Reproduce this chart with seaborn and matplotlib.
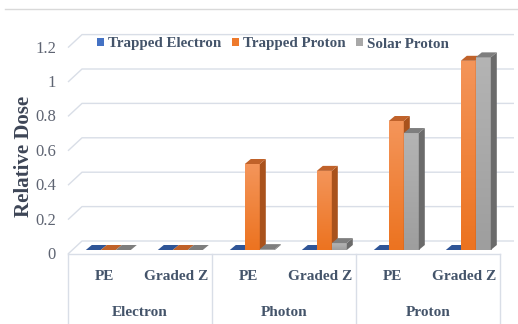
import numpy as np
import pandas as pd
import matplotlib
matplotlib.use("Agg")
import matplotlib.pyplot as plt
import seaborn as sns
from matplotlib.patches import Polygon, Patch
from matplotlib.lines import Line2D

# ---- data -------------------------------------------------------------
groups = ["Electron", "Photon", "Proton"]
shields = ["PE", "Graded Z"]
series = ["Trapped Electron", "Trapped Proton", "Solar Proton"]
trapped_electron = [0.0, 0.0, 0.0, 0.0, 0.0, 0.0]
trapped_proton = [0.0, 0.0, 0.50, 0.46, 0.75, 1.10]
solar_proton = [0.0, 0.0, 0.005, 0.04, 0.68, 1.12]
yticks = [0, 0.2, 0.4, 0.6, 0.8, 1.0, 1.2]
ytick_labels = ["0", "0.2", "0.4", "0.6", "0.8", "1", "1.2"]

slots = [f"{g}|{s}" for g in groups for s in shields]
df = pd.DataFrame({
    "slot": slots * 3,
    "source": np.repeat(series, len(slots)),
    "dose": trapped_electron + trapped_proton + solar_proton,
})

# ---- style ------------------------------------------------------------
front_col = {"Trapped Electron": "#4472C4", "Trapped Proton": "#EE7A2C", "Solar Proton": "#A8A8A8"}
grad_col = {"Trapped Electron": ("#5A85D0", "#3A66B8"),
            "Trapped Proton": ("#F4955A", "#EC7320"),
            "Solar Proton": ("#B4B4B4", "#9E9E9E")}
top_col = {"Trapped Electron": "#2F5597", "Trapped Proton": "#C0622A", "Solar Proton": "#7E7E7E"}
side_col = {"Trapped Electron": "#284B88", "Trapped Proton": "#A9521C", "Solar Proton": "#6B6B6B"}
grid_c = "#D9DEE7"
text_c = "#44546A"
tick_c = "#5E6472"
serif = ["Liberation Serif", "DejaVu Serif"]

W, H = 518, 324
fig = plt.figure(figsize=(W / 100, H / 100), dpi=100)
ax = fig.add_axes([72.3 / W, 74 / H, 432 / W, 1.3 * 172 / H])
ax.set_xlim(-0.5, 5.5)
ax.set_ylim(0, 1.3)
ax.axis("off")

ux = 6.0 / 432.0        # data units per pixel (x)
uy = 1.3 / (1.3 * 172)  # data units per pixel (y)


def sh(x, y, dx, dy):
    return (x + dx * ux, y + dy * uy)


FRONT = (-4.3, -4.0)
BACK = (9.7, 9.0)
DEPTH = (6.0, 5.0)

sns.barplot(data=df, x="slot", y="dose", hue="source", order=slots,
            hue_order=series, palette=front_col, width=0.625, saturation=1,
            linewidth=0, edgecolor="none", legend=False, ax=ax)
ax.set_xlim(-0.5, 5.5)
ax.set_ylim(0, 1.3)

# back wall gridlines with the left-wall diagonals
for v in yticks:
    x0b, y0b = sh(-0.5, v, *BACK)
    x1b, _ = sh(5.5, v, *BACK)
    x0f, y0f = sh(-0.5, v, *FRONT)
    ax.plot([x0f, x0b, x1b], [y0f, y0b, y0b], color=grid_c, lw=1.0,
            zorder=0.5, clip_on=False, solid_capstyle="butt")

# floor front edge
xf0, yf0 = sh(-0.5, 0, *FRONT)
xf1, _ = sh(5.5, 0, *FRONT)
ax.plot([xf0, xf1], [yf0, yf0], color=grid_c, lw=1.0, zorder=0.5, clip_on=False)

# category table separators
bottom = yf0 - 72 * uy
for b in [-0.5, 1.5, 3.5, 5.5]:
    xb, _ = sh(b, 0, *FRONT)
    ax.plot([xb, xb], [yf0, bottom], color=grid_c, lw=1.0, zorder=0.5, clip_on=False)

# 3D faces for each bar
for si, (name, cont) in enumerate(zip(series, ax.containers)):
    for ci, p in enumerate(cont.patches):
        z = 2 + 0.01 * (ci * 3 + si)
        x0, w, h = p.get_x(), p.get_width(), p.get_height()
        x1 = x0 + w
        p.set_zorder(z)
        if h > 0:
            c_top, c_bot = grad_col[name]
            grad = np.linspace(0, 1, 64)[:, None]
            cmap = matplotlib.colors.LinearSegmentedColormap.from_list("g", [c_bot, c_top])
            im = ax.imshow(grad, extent=[x0, x1, 0, h], origin="lower", cmap=cmap,
                           aspect="auto", zorder=z + 0.001, interpolation="bilinear")
            im.set_clip_path(p)
            side = [(x1, 0), (x1, h), sh(x1, h, *DEPTH), sh(x1, 0, *DEPTH)]
            ax.add_patch(Polygon(side, closed=True, facecolor=side_col[name],
                                 edgecolor="none", zorder=z + 0.002))
        top = [(x0, h), (x1, h), sh(x1, h, *DEPTH), sh(x0, h, *DEPTH)]
        ax.add_patch(Polygon(top, closed=True, facecolor=top_col[name],
                             edgecolor="none", zorder=z + 0.003, clip_on=False))
ax.set_xlim(-0.5, 5.5)
ax.set_ylim(0, 1.3)

# y tick labels on the front plane
for v, lab in zip(yticks, ytick_labels):
    x, y = sh(-0.5, v, FRONT[0] - 12, FRONT[1] - 1)
    ax.text(x, y, lab, ha="right", va="center", fontsize=12, color=tick_c,
            family=serif, clip_on=False)

# category labels
for i, s in enumerate(slots):
    g, sub = s.split("|")
    x, y = sh(i, 0, FRONT[0], -27)
    ax.text(x, y, sub, ha="center", va="center", fontsize=11, fontweight="bold",
            color=text_c, family=serif, clip_on=False)
for gi, g in enumerate(groups):
    x, y = sh(2 * gi + 0.5, 0, FRONT[0], -62)
    ax.text(x, y, g, ha="center", va="center", fontsize=11, fontweight="bold",
            color=text_c, family=serif, clip_on=False)

fig.text(24 / W, 1 - 156 / H, "Relative Dose", rotation=90, ha="center", va="center",
         fontsize=15, fontweight="bold", color="#3D4556", family=serif)

handles = [Patch(facecolor=front_col[n], edgecolor="none") for n in series]
leg = fig.legend(handles, series, loc="center", bbox_to_anchor=(273 / W, 1 - 44 / H),
                 ncol=3, frameon=False, handlelength=0.45, handleheight=0.45,
                 handletextpad=0.3, columnspacing=0.7,
                 prop={"family": serif, "weight": "bold", "size": 10.8})
for t in leg.get_texts():
    t.set_color(text_c)

# chart frame top edge
fig.add_artist(Line2D([5 / W, 1], [1 - 9 / H, 1 - 9 / H], color="#D9D9D9", lw=1.0,
                      transform=fig.transFigure))

fig.savefig("out.png", dpi=100)
